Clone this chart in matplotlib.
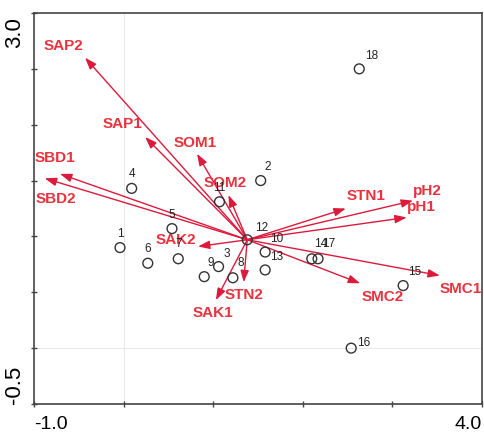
import numpy as np
import matplotlib
matplotlib.use("Agg")
import matplotlib.pyplot as plt

plt.rcParams['font.family'] = ['Liberation Sans', 'DejaVu Sans']

# sample scores
site_ids = [str(i) for i in range(1, 19)]
site_x = [-0.04, 1.53, 1.06, 0.09, 0.54, 0.27, 0.61, 1.22, 0.90,
          1.58, 1.07, 1.38, 1.58, 2.10, 3.12, 2.54, 2.17, 2.63]
site_y = [0.90, 1.50, 0.73, 1.43, 1.07, 0.76, 0.80, 0.63, 0.64,
          0.86, 1.31, 0.97, 0.70, 0.80, 0.56, 0.00, 0.80, 2.50]

# environmental variables (arrow tips), arrows start at the origin of site 12
env_names = ['SAP2', 'SAP1', 'SOM1', 'SOM2', 'SBD1', 'SBD2', 'SAK2',
             'SAK1', 'STN2', 'STN1', 'pH2', 'pH1', 'SMC1', 'SMC2']
env_x = [-0.43, 0.24, 0.82, 1.17, -0.71, -0.88, 0.83,
         1.03, 1.34, 2.48, 3.23, 3.16, 3.53, 2.64]
env_y = [2.60, 1.89, 1.74, 1.37, 1.56, 1.52, 0.91,
         0.43, 0.59, 1.25, 1.32, 1.17, 0.65, 0.58]
origin = (1.38, 0.97)

# label offsets in pixels (dx, dy)
site_off = [(0, 14), (7, 14), (8, 13), (0, 14), (0, 14), (0, 14), (0, 15), (8, 15), (7, 14),
            (12, 13), (0, 14), (14, 12), (11, 13), (9, 15), (12, 14), (12, 5), (11, 15), (12, 13)]
env_off = [(-22, 12), (-23, 13), (-2, 11), (-3, 12), (-5, 16), (11, -21), (-22, 6),
           (-3, -13), (0, -13), (20, 12), (14, 10), (15, 10), (21, -13), (23, -14)]

red_txt = '#e8323e'
red_arr = '#dc1a3c'
px = 72.0 / 100

fig = plt.figure(figsize=(4.85, 4.37), dpi=100)
ax = fig.add_axes([34 / 485, 33 / 437, 448 / 485, 391 / 437])
ax.set_xlim(-1.0, 4.0)
ax.set_ylim(-0.5, 3.0)

ax.axvline(0, color='#e8e8e8', lw=0.7, zorder=0)
ax.axhline(0, color='#e8e8e8', lw=0.7, zorder=0)

for name, x, y, (dx, dy) in zip(env_names, env_x, env_y, env_off):
    ax.annotate('', xy=(x, y), xytext=origin,
                arrowprops=dict(arrowstyle='-|>,head_length=0.7,head_width=0.25',
                                color=red_arr, lw=1.0, shrinkA=0, shrinkB=0))
    ax.annotate(name, xy=(x, y), xytext=(dx * px, dy * px), textcoords='offset points',
                ha='center', va='center', color=red_txt, fontsize=11, fontweight='bold')

ax.scatter(site_x, site_y, s=50, facecolors='none', edgecolors='#333333', linewidths=1.0, zorder=3)
for lab, x, y, (dx, dy) in zip(site_ids, site_x, site_y, site_off):
    ax.annotate(lab, xy=(x, y), xytext=(dx * px, dy * px), textcoords='offset points',
                ha='center', va='center', color='#222222', fontsize=8.5, zorder=4)

ax.set_xticks(np.arange(-1, 4.01, 1.0))
ax.set_yticks(np.arange(-0.5, 3.01, 0.5))
ax.set_xticklabels([])
ax.set_yticklabels([])
ax.tick_params(direction='inout', length=5, width=1, color='#444444')
for s in ax.spines.values():
    s.set_color('#444444')
    s.set_linewidth(1.2)

ax.text(0, -0.03, '-1.0', transform=ax.transAxes, ha='left', va='top', fontsize=14)
ax.text(1, -0.03, '4.0', transform=ax.transAxes, ha='right', va='top', fontsize=14)
ax.text(-0.02, 0.99, '3.0', transform=ax.transAxes, ha='right', va='top', rotation=90, fontsize=16)
ax.text(-0.02, 0.0, '-0.5', transform=ax.transAxes, ha='right', va='bottom', rotation=90, fontsize=16)

fig.savefig('out.png', dpi=100)
